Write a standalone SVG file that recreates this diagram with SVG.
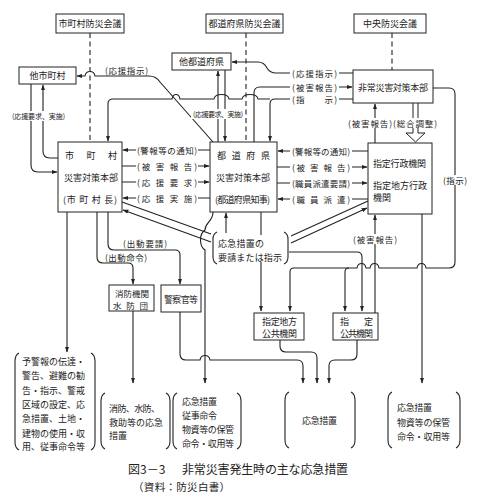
<svg xmlns="http://www.w3.org/2000/svg" width="480" height="499" viewBox="0 0 480 499">
<defs>
<style>
.bx{fill:#fff;stroke:#222;stroke-width:1}
.ln{fill:none;stroke:#222;stroke-width:1.1}
.ds{fill:none;stroke:#222;stroke-width:1.1;stroke-dasharray:5,3.5}
.ar{marker-end:url(#ah)}
.br{fill:none;stroke:#222;stroke-width:1.1}
text{font-family:"Noto Sans CJK JP","Noto Sans CJK SC",sans-serif;fill:#222;dominant-baseline:central}
.t9{font-size:9px}
.t8{font-size:8.5px}
.t7{font-size:7px}
.m{text-anchor:middle}
.bg{fill:#fff}
</style>
<marker id="ah" viewBox="0 0 10 10" refX="9" refY="5" markerWidth="6" markerHeight="6" orient="auto" markerUnits="userSpaceOnUse"><path d="M0,1.5 L10,5 L0,8.5 z" fill="#222"/></marker>
</defs>
<rect width="480" height="499" fill="#fff"/>

<g id="connectors">
<path class="ds" d="M90,33 V142"/>
<path class="ds" d="M246,33 V142"/>
<path class="ds" d="M392,33 V70"/>
<path class="ln ar" d="M213,142 L160,82 Q156,76 149,76 H95 C94,70 86,70 85,76 H77"/>
<path class="ln ar" d="M353,73 H276 Q270,73 267,68 Q264,62 258,62 H232"/>
<path class="ln ar" d="M254,142 V93 Q254,87 260,87 H352"/>
<path class="ln ar" d="M353,99 H275 Q270,99 270,104 V141"/>
<path class="ln ar" d="M270,99 H258 C257,93 243,93 242,99 H229 C228,93 215,93 214,99 H180 C179,93 173,93 172,99 H113 Q108,99 108,104 V141"/>
<path class="ln ar" d="M218,142 V71"/>
<path class="ln ar" d="M225,70 V141"/>
<path class="ln ar" d="M31,84 V165 Q31,172 38,172 H57"/>
<path class="ln ar" d="M58,158 H50 Q43,158 43,151 V85"/>
<path class="ln ar" d="M210,150 H123"/>
<path class="ln ar" d="M122,166 H209"/>
<path class="ln ar" d="M122,182 H209"/>
<path class="ln ar" d="M210,198 H123"/>
<path class="ln ar" d="M368,151 H278"/>
<path class="ln ar" d="M277,167 H367"/>
<path class="ln ar" d="M277,183 H367"/>
<path class="ln ar" d="M368,199 H278"/>
<path class="ln ar" d="M375,143 V104"/>
<path class="bx" d="M413,103 V133 H406 L415.5,142 L425,133 H418 V103"/>
<path class="ln ar" d="M433,88 H449 Q455,88 455,94 V262 Q455,268 449,268 H426 C425,262 418,262 417,268 H379 C378,262 371,262 370,268 H366 C365,262 358,262 357,268 H349 Q345,268 345,272 V311"/>
<path class="ln ar" d="M349,268 H294 Q290,268 290,272 V311"/>
<path class="ln ar" d="M375,313 V215"/>
<path class="ln ar" d="M422,214 V383"/>
<path class="ln ar" d="M289,252 H357 Q362,252 362,257 V311"/>
<path class="ln" d="M211,234 L122,202"/>
<path class="ln ar" d="M211,242 L123,210"/>
<path class="ln" d="M291,236 L368,201"/>
<path class="ln ar" d="M291,243 L367,208"/>
<path class="ln ar" d="M213,212 C213,222 205,222 205,230 C199,234 199,246 205,250 V383"/>
<path class="ln ar" d="M226,233 V213"/>
<path class="ln ar" d="M261,212 V311"/>
<path class="ln ar" d="M67,212 V352"/>
<path class="ln ar" d="M97,212 V257 Q97,263 103,263 H128 Q133,263 133,268 V284"/>
<path class="ln ar" d="M108,212 V244 Q108,250 114,250 H175 Q180,250 180,255 V284"/>
<path class="ln ar" d="M133,311 V383"/>
<path class="ln ar" d="M180,312 V354 Q180,360 186,360 H200 C201,354 209,354 210,360 H297 Q303,360 303,366 V383"/>
<path class="ln ar" d="M280,340 V346 Q280,352 286,352 H311 Q317,352 317,358 V383"/>
<path class="ln ar" d="M357,340 V354 Q357,360 351,360 H335 Q329,360 329,366 V383"/>
</g>

<g id="connector-labels">
<text class="t8" x="105" y="70" textLength="43">(応援指示)</text>
<rect class="bg" x="290" y="68" width="49" height="10"/><text class="t8" x="292" y="73" textLength="45">(応援指示)</text>
<rect class="bg" x="290" y="82" width="49" height="10"/><text class="t8" x="292" y="87" textLength="45">(被害報告)</text>
<rect class="bg" x="290" y="94" width="49" height="10"/><text class="t8" x="292" y="99" textLength="45">(指　　示)</text>
<rect class="bg" x="10" y="111" width="57" height="10"/><text class="t7" x="12" y="116" textLength="53">(応援要求、実施)</text>
<rect class="bg" x="191" y="109" width="54" height="10"/><text class="t7" x="193" y="114" textLength="50">(応援要求、実施)</text>
<rect class="bg" x="136" y="145" width="62" height="10"/><text class="t8" x="137" y="150" textLength="60">(警報等の通知)</text>
<rect class="bg" x="136" y="161" width="62" height="10"/><text class="t8" x="137" y="166" textLength="60">(被 害 報 告)</text>
<rect class="bg" x="136" y="177" width="62" height="10"/><text class="t8" x="137" y="182" textLength="60">(応 援 要 求)</text>
<rect class="bg" x="136" y="193" width="62" height="10"/><text class="t8" x="137" y="198" textLength="60">(応 援 実 施)</text>
<rect class="bg" x="290" y="146" width="62" height="10"/><text class="t8" x="292" y="151" textLength="58">(警報等の通知)</text>
<rect class="bg" x="290" y="162" width="62" height="10"/><text class="t8" x="292" y="167" textLength="58">(被 害 報 告)</text>
<rect class="bg" x="290" y="178" width="62" height="10"/><text class="t8" x="292" y="183" textLength="58">(職員派遣要請)</text>
<rect class="bg" x="290" y="194" width="62" height="10"/><text class="t8" x="292" y="199" textLength="58">(職 員 派 遣)</text>
<rect class="bg" x="346" y="118" width="93" height="10"/><text class="t8" x="348" y="123" textLength="89">(被害報告)(総合調整)</text>
<rect class="bg" x="441" y="175" width="28" height="10"/><text class="t8" x="443" y="180" textLength="24">(指示)</text>
<rect class="bg" x="351" y="234" width="48" height="10"/><text class="t8" x="353" y="239" textLength="44">(被害報告)</text>
<text class="t8" x="123" y="243" textLength="44">(出動要請)</text>
<text class="t8" x="105" y="257" textLength="42">(出動命令)</text>
</g>

<g id="n-shichoson-kaigi"><rect class="bx" x="56" y="14" width="68" height="19"/><text class="t9 m" x="90" y="23.5">市町村防災会議</text></g>
<g id="n-todofuken-kaigi"><rect class="bx" x="206" y="14" width="77" height="19"/><text class="t9 m" x="244.5" y="23.5">都道府県防災会議</text></g>
<g id="n-chuo-kaigi"><rect class="bx" x="354" y="14" width="72" height="19"/><text class="t9 m" x="390" y="23.5">中央防災会議</text></g>
<g id="n-ta-shichoson"><rect class="bx" x="19" y="67" width="57" height="17"/><text class="t9 m" x="47.5" y="75.5">他市町村</text></g>
<g id="n-ta-todofuken"><rect class="bx" x="172" y="53" width="59" height="17"/><text class="t9 m" x="201.5" y="61.5">他都道府県</text></g>
<g id="n-hijo"><rect class="bx" x="353" y="70" width="80" height="33"/><text class="t9" x="358" y="87" textLength="70">非常災害対策本部</text></g>
<g id="n-shichoson"><rect class="bx" x="58" y="142" width="64" height="70"/>
<text class="t9" x="65" y="155" textLength="52">市町村</text>
<text class="t9" x="64" y="177" textLength="54">災害対策本部</text>
<text class="t9" x="63" y="199" textLength="54">(市 町 村 長)</text></g>
<g id="n-todofuken"><rect class="bx" x="210" y="142" width="67" height="70"/>
<text class="t9" x="217" y="155" textLength="53">都道府県</text>
<text class="t9" x="216" y="177" textLength="54">災害対策本部</text>
<text class="t9" x="215" y="199" textLength="55">(都道府県知事)</text></g>
<g id="n-gyosei"><rect class="bx" x="368" y="143" width="64" height="71"/>
<text class="t9" x="373" y="163" textLength="53">指定行政機関</text>
<text class="t9" x="373" y="185" textLength="54">指定地方行政</text>
<text class="t9" x="373" y="197">機関</text></g>
<g id="n-yosei"><path class="br" d="M217,232 Q213,234 213,239 V257 Q213,262 217,264"/><path class="br" d="M284,232 Q288,234 288,239 V257 Q288,262 284,264"/>
<rect class="bg" x="216" y="235" width="70" height="27"/>
<text class="t9" x="218" y="243" textLength="46">応急措置の</text>
<text class="t9" x="218" y="257" textLength="64">要請または指示</text></g>
<g id="n-shobo"><rect class="bx" x="109" y="285" width="45" height="26"/>
<text class="t8" x="115" y="293" textLength="34">消防機関</text>
<text class="t8" x="113" y="305" textLength="35">水 防 団</text></g>
<g id="n-keisatsu"><rect class="bx" x="161" y="285" width="40" height="27"/><text class="t9" x="164" y="299" textLength="34">警察官等</text></g>
<g id="n-chiho-kokyo"><rect class="bx" x="254" y="313" width="50" height="27"/>
<text class="t9" x="262" y="321" textLength="35">指定地方</text>
<text class="t9" x="262" y="333" textLength="35">公共機関</text></g>
<g id="n-kokyo"><rect class="bx" x="333" y="313" width="45" height="27"/>
<text class="t9" x="340" y="321" textLength="33">指定</text>
<text class="t9" x="340" y="333" textLength="33">公共機関</text></g>

<g id="n-out1"><path class="br" d="M19,353 Q15,355 15,361 V442 Q15,448 19,450"/><path class="br" d="M91,353 Q95,355 95,361 V442 Q95,448 91,450"/>
<text class="t9" x="22" y="361" textLength="63">予警報の伝達・</text>
<text class="t9" x="22" y="375" textLength="63">警告、避難の勧</text>
<text class="t9" x="22" y="390" textLength="63">告・指示、警戒</text>
<text class="t9" x="22" y="404" textLength="63">区域の設定、応</text>
<text class="t9" x="22" y="418" textLength="63">急措置、土地・</text>
<text class="t9" x="22" y="433" textLength="63">建物の使用・収</text>
<text class="t9" x="22" y="446" textLength="63">用、従事命令等</text></g>
<g id="n-out2"><path class="br" d="M105,393 Q101,395 101,401 V441 Q101,447 105,449"/><path class="br" d="M166,393 Q170,395 170,401 V441 Q170,447 166,449"/>
<text class="t9" x="109" y="408" textLength="51">消防、水防、</text>
<text class="t9" x="109" y="422" textLength="54">救助等の応急</text>
<text class="t9" x="109" y="435">措置</text></g>
<g id="n-out3"><path class="br" d="M177,393 Q173,395 173,401 V441 Q173,447 177,449"/><path class="br" d="M237,393 Q241,395 241,401 V441 Q241,447 237,449"/>
<text class="t9" x="182" y="401" textLength="35">応急措置</text>
<text class="t9" x="182" y="415" textLength="35">従事命令</text>
<text class="t9" x="182" y="429" textLength="52">物資等の保管</text>
<text class="t9" x="182" y="443" textLength="52">命令・収用等</text></g>
<g id="n-out4"><path class="br" d="M289,392 Q285,394 285,400 V440 Q285,446 289,448"/><path class="br" d="M351,392 Q355,394 355,400 V440 Q355,446 351,448"/>
<text class="t9" x="302" y="420" textLength="35">応急措置</text></g>
<g id="n-out5"><path class="br" d="M392,392 Q388,394 388,400 V440 Q388,446 392,448"/><path class="br" d="M456,392 Q460,394 460,400 V440 Q460,446 456,448"/>
<text class="t9" x="397" y="407" textLength="35">応急措置</text>
<text class="t9" x="397" y="422" textLength="53">物資等の保管</text>
<text class="t9" x="397" y="436" textLength="53">命令・収用等</text></g>

<g id="caption">
<text x="128" y="468" font-size="12">図3－3</text>
<text x="182" y="468" font-size="12" textLength="166">非常災害発生時の主な応急措置</text>
<text x="133" y="486" font-size="10.5" textLength="97">（資料：防災白書）</text>
</g>
</svg>
